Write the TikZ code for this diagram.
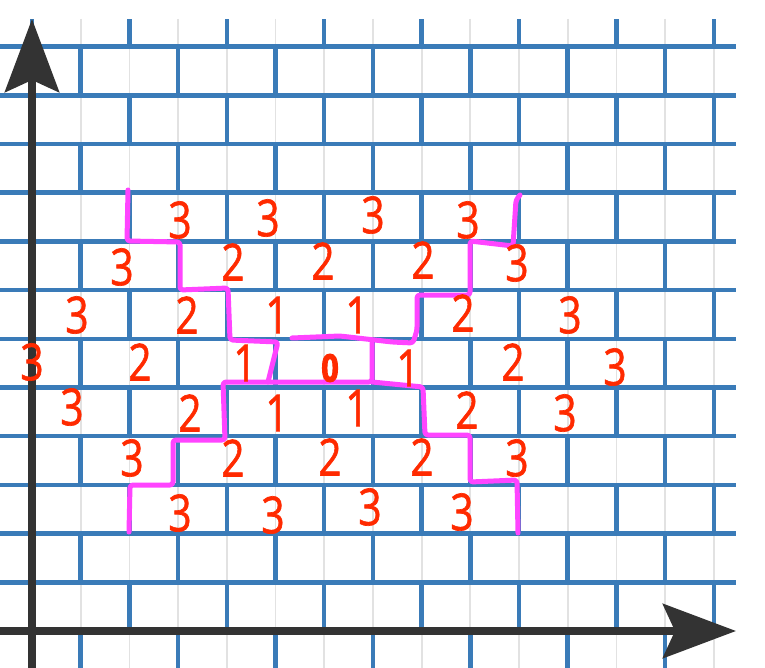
\documentclass[tikz,border=0pt]{standalone}
\usepackage{fontspec}
\setmainfont{Open Sans}
\newfontfamily\handfont[FakeBold=1.3]{Open Sans}
\newfontfamily\blobfont[FakeBold=3]{Open Sans}
\usetikzlibrary{arrows.meta}
\definecolor{gridblue}{RGB}{58,123,184}
\definecolor{gridgray}{RGB}{226,226,226}
\definecolor{axisgray}{RGB}{51,51,51}
\definecolor{numred}{RGB}{255,42,0}
\definecolor{pathmag}{RGB}{255,68,255}
\begin{document}
\begin{tikzpicture}[x=1pt,y=-1pt,
  blueline/.style={gridblue,line width=4.5pt},
  grayline/.style={gridgray,line width=1.8pt},
  axisline/.style={axisgray,line width=8pt,-{Stealth[length=73pt,width=54pt,inset=12pt]}},
  walk/.style={pathmag,line width=5pt,line cap=round,line join=round,rounded corners=3pt},
  dist/.style={numred,inner sep=0pt,xscale=0.8,transform shape,font=\handfont\fontsize{51}{51}\selectfont},
  zero/.style={numred,inner sep=0pt,xscale=0.8,transform shape,font=\blobfont\bfseries\fontsize{38}{38}\selectfont}
]
\useasboundingbox (0,0) rectangle (765,668);
\fill[white] (0,0) rectangle (765,668);
% faint gray lines
\foreach \k in {1,...,14}{
  \draw[grayline] ({32+48.7*\k},19) -- ({32+48.7*\k},668);
}
% horizontal blue lines
\foreach \j in {1,...,12}{
  \draw[blueline] (0,{631-48.7*\j}) -- (736,{631-48.7*\j});
}
% vertical brick joints
\foreach \r in {-1,...,12}{
  \pgfmathsetmacro\ybot{min(668,631-48.7*\r)}
  \pgfmathsetmacro\ytop{max(19,631-48.7*(\r+1))}
  \pgfmathtruncatemacro\kst{mod(\r+2,2)}
  \pgfmathtruncatemacro\knx{\kst+2}
  \foreach \k in {\kst,\knx,...,14}{
    \draw[blueline] ({32+48.7*\k},\ybot) -- ({32+48.7*\k},\ytop);
  }
}
% axes
\coordinate (yb) at (32,668);
\coordinate (yt) at (32,19);
\coordinate (xl) at (0,631);
\coordinate (xr) at (736,631);
\draw[axisline] (yb) -- (yt);
\draw[axisline] (xl) -- (xr);
% magenta boundary
\draw[walk] (128,190) -- (127,241) -- (180,242) -- (180,290) -- (228,288) -- (230,340) -- (278,342) -- (268,382);
\draw[walk] (292,338) -- (340,336) -- (392,342) -- (413,343) -- (417,330) -- (417,295) -- (470,295) -- (470,241) -- (513,246) -- (516,200) -- (520,195);
\draw[walk] (372,343) -- (372,382) -- (223,382) -- (225,440) -- (173,440) -- (173,485) -- (130,485) -- (129,532);
\draw[walk] (372,382) -- (423,387) -- (425,435) -- (470,435) -- (470,482) -- (517,480) -- (518,533);
% distances
\foreach \x/\y/\t [count=\i] in {
  180/220/3, 268/218/3, 373/215/3, 468/220/3,
  122/267/3, 233/262/2, 323/261/2, 423/260/2, 517/263/3,
  77/315/3, 187/315/2, 277/315/1, 357/315/1, 463/313/2, 570/315/3,
  32/362/3, 140/362/2, 245/363/1, 408/368/1, 513/362/2, 615/367/3,
  72/407/3, 190/413/2, 277/413/1, 357/408/1, 467/410/2, 565/413/3,
  132/458/3, 233/458/2, 330/457/2, 422/457/2, 517/458/3,
  180/513/3, 273/515/3, 370/507/3, 462/512/3}{
  \node[dist] (d\i) at (\x,\y) {\t};
}
\node[zero] (d0) at (330,368) {0};
\end{tikzpicture}
\end{document}
